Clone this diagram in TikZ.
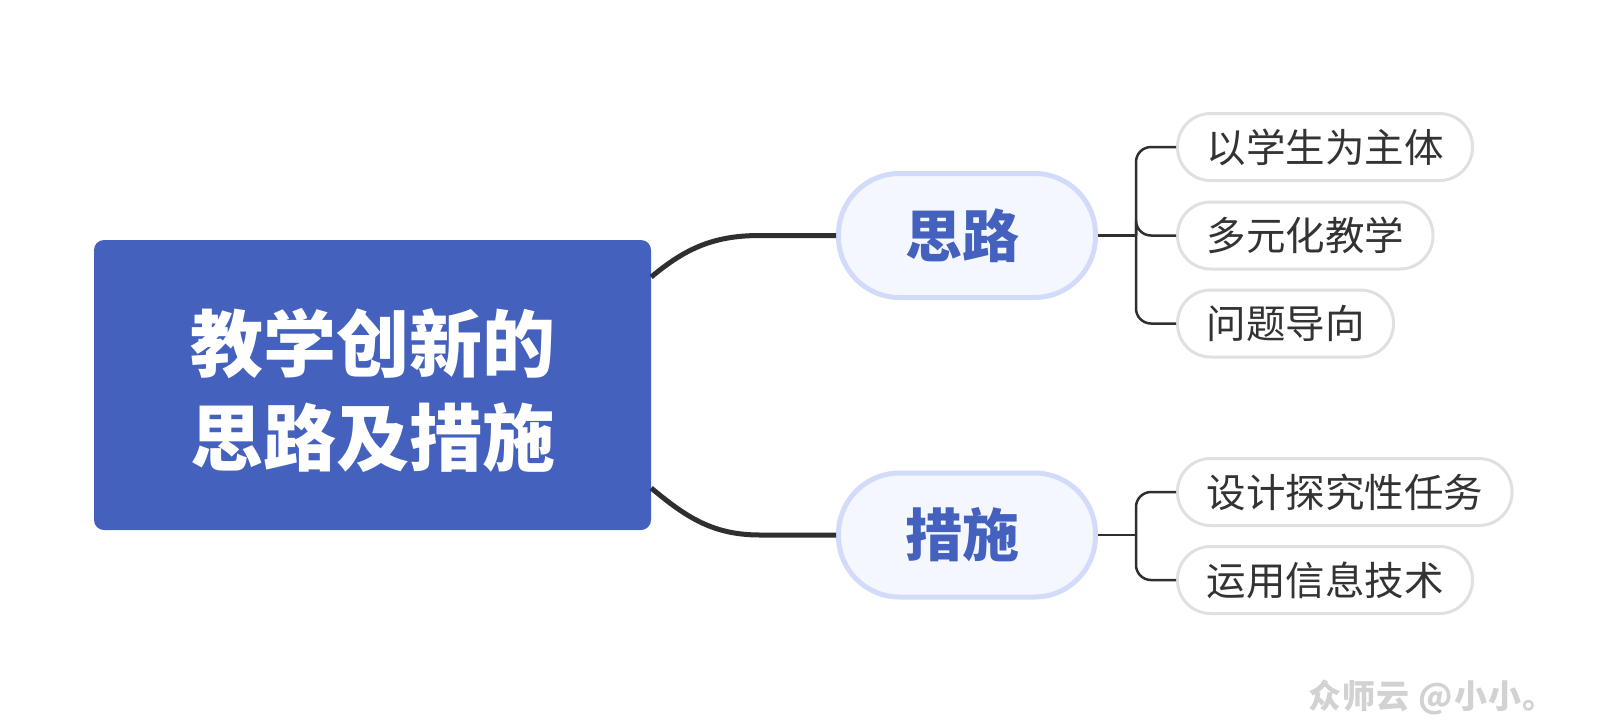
\documentclass[tikz,border=0pt]{standalone}
\usepackage{fontspec}
\setmainfont{Noto Sans CJK SC}
\newfontfamily\wmfont[LetterSpace=4]{Noto Sans CJK SC}
\definecolor{rootblue}{HTML}{4361BD}
\definecolor{branchline}{HTML}{D3DBFB}
\definecolor{branchfill}{HTML}{F5F7FF}
\definecolor{leafline}{HTML}{E0E0E0}
\definecolor{leaftext}{HTML}{333333}
\definecolor{linkgray}{HTML}{2F2F2F}
\definecolor{wmgray}{HTML}{D2D2D2}
\begin{document}
\begin{tikzpicture}[x=1pt, y=-1pt,
  root/.style={fill=rootblue, rounded corners=10pt, minimum width=557pt, minimum height=290pt},
  roottext/.style={text=white, align=center, font=\bfseries\fontsize{73}{94}\selectfont},
  branch/.style={draw=branchline, fill=branchfill, line width=5pt, rounded corners=61pt, minimum width=257pt, minimum height=124pt, text=rootblue, font=\bfseries\fontsize{57}{68}\selectfont},
  leaf/.style={draw=leafline, fill=white, line width=3pt, rounded corners=33pt, minimum height=67pt, inner xsep=29pt, anchor=west, text=leaftext, font=\fontsize{39.5}{47}\selectfont},
  trunk/.style={draw=linkgray, line width=5pt},
  twig/.style={draw=linkgray, line width=2.5pt, rounded corners=15pt},
  wmark/.style={text=wmgray, font=\wmfont\bfseries\fontsize{33}{40}\selectfont}
]
\useasboundingbox (0,0) rectangle (1598,721);
\node[root] (root) at (372.5,385) {};
\node[roottext] (title) at ([yshift=-5pt]root.center) {教学创新的\\思路及措施};
\node[branch] (silu) at (967,235.5) {思路\hspace*{10pt}};
\node[branch] (cuoshi) at (967,535) {措施\hspace*{10pt}};
\draw[trunk] ([yshift=108pt]root.east) to[out=40,in=180] ([xshift=-76pt]silu.west) -- (silu.west);
\draw[trunk] ([yshift=-103pt]root.east) to[out=-40,in=180] ([xshift=-76pt]cuoshi.west) -- (cuoshi.west);
% leaves of the first branch
\coordinate (sj) at ([xshift=38pt]silu.east);
\draw[twig] (silu.east) -- (sj);
\foreach \name/\y/\word in {yixue/147/以学生为主体, duoyuan/235.5/多元化教学, wenti/323.5/问题导向} {
  \node[leaf] (\name) at (1176,\y) {\word};
  \draw[twig] (sj) |- (\name.west);
}
% leaves of the second branch
\coordinate (cj) at ([xshift=38pt]cuoshi.east);
\draw[twig] (cuoshi.east) -- (cj);
\foreach \name/\y/\word in {sheji/492/设计探究性任务, yunyong/580/运用信息技术} {
  \node[leaf] (\name) at (1176,\y) {\word};
  \draw[twig] (cj) |- (\name.west);
}
\node[wmark] (wm) at (1432,697) {众师云 @小小。};
\end{tikzpicture}
\end{document}
